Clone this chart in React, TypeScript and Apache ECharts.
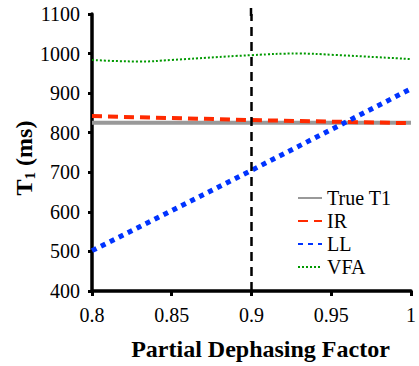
import React, { useEffect, useRef } from "react";
import * as echarts from "echarts";

const xValues = [0.8, 0.85, 0.9, 0.95, 1.0];
const trueT1 = [825, 825, 825, 825, 825];
const irValues = [842, 837, 832, 828, 824];
const llValues = [502, 603, 705, 808, 911];
const vfaX = [0.8, 0.83, 0.85, 0.9, 0.93, 0.95, 1.0];
const vfaValues = [984, 980, 984, 996, 1000, 997, 986];
const seriesNames = ["True T1", "IR", "LL", "VFA"];

const FONT = "Liberation Serif";

export default function App() {
  const ref = useRef<HTMLDivElement>(null);
  useEffect(() => {
    if (!ref.current) return;
    const chart = echarts.init(ref.current, undefined, { renderer: "svg" });
    const pair = (xs: number[], ys: number[]) => xs.map((x, i) => [x, ys[i]]);
    chart.setOption({
      animation: false,
      grid: { left: 92, right: 8, top: 14, bottom: 64 },
      legend: {
        orient: "vertical",
        left: 292,
        top: 183,
        itemWidth: 24,
        itemHeight: 10,
        itemGap: 3,
        data: seriesNames,
        itemStyle: { opacity: 0 },
        textStyle: { fontFamily: FONT, fontSize: 20, color: "#000" },
      },
      xAxis: {
        type: "value",
        min: 0.8,
        max: 1,
        interval: 0.05,
        name: "Partial Dephasing Factor",
        nameLocation: "middle",
        nameGap: 46,
        nameTextStyle: { fontFamily: FONT, fontSize: 24, fontWeight: "bold", color: "#000", padding: [0, 0, 0, 18] },
        axisLine: { lineStyle: { color: "#000", width: 3.5 } },
        axisTick: { show: true, length: 5, inside: false, lineStyle: { color: "#000", width: 3 } },
        axisLabel: { fontFamily: FONT, fontSize: 20, color: "#000", margin: 14, formatter: (v: number) => String(Math.round(v * 100) / 100) },
        splitLine: { show: false },
      },
      yAxis: {
        type: "value",
        min: 400,
        max: 1100,
        interval: 100,
        axisLine: { show: true, lineStyle: { color: "#000", width: 3.5 } },
        axisTick: { show: true, length: 4, lineStyle: { color: "#000", width: 3 } },
        axisLabel: { fontFamily: FONT, fontSize: 20, color: "#000", margin: 12, formatter: (v: number) => String(v) },
        splitLine: { show: false },
      },
      graphic: [
        {
          type: "text",
          x: 24,
          y: 158,
          rotation: Math.PI / 2,
          style: {
            text: "{a|T}{b|1}{a| (ms)}",
            align: "center",
            verticalAlign: "middle",
            fontFamily: FONT,
            rich: {
              a: { fontFamily: FONT, fontSize: 24, fontWeight: "bold" },
              b: { fontFamily: FONT, fontSize: 15, fontWeight: "bold", padding: [12, 0, 0, 0] },
            },
          },
        },
        {
          type: "line",
          shape: { x1: 251, y1: 8, x2: 251, y2: 16 },
          style: { stroke: "#000", lineWidth: 2.5 },
        },
      ],
      series: [
        {
          name: "True T1",
          type: "line",
          data: pair(xValues, trueT1),
          symbol: "none",
          lineStyle: { color: "#999999", width: 4 },
          itemStyle: { color: "#999999" },
          z: 2,
        },
        {
          name: "IR",
          type: "line",
          data: pair(xValues, irValues),
          symbol: "none",
          lineStyle: { color: "#ff2a00", width: 4, type: [10, 6] },
          itemStyle: { color: "#ff2a00" },
          z: 3,
        },
        {
          name: "LL",
          type: "line",
          data: pair(xValues, llValues),
          symbol: "none",
          lineStyle: { color: "#0033ff", width: 5, type: [5, 5] },
          itemStyle: { color: "#0033ff" },
          z: 4,
          markLine: {
            silent: true,
            symbol: "none",
            label: { show: false },
            lineStyle: { color: "#000", width: 2.5, type: [9, 6] },
            data: [{ xAxis: 0.9 }],
          },
        },
        {
          name: "VFA",
          type: "line",
          data: pair(vfaX, vfaValues),
          symbol: "none",
          smooth: true,
          lineStyle: { color: "#009900", width: 2, type: [2, 2] },
          itemStyle: { color: "#009900" },
          z: 5,
        },
      ],
    });
    return () => chart.dispose();
  }, []);
  return <div ref={ref} style={{ width: 419, height: 366, position: "absolute", left: 0, top: 0 }} />;
}
